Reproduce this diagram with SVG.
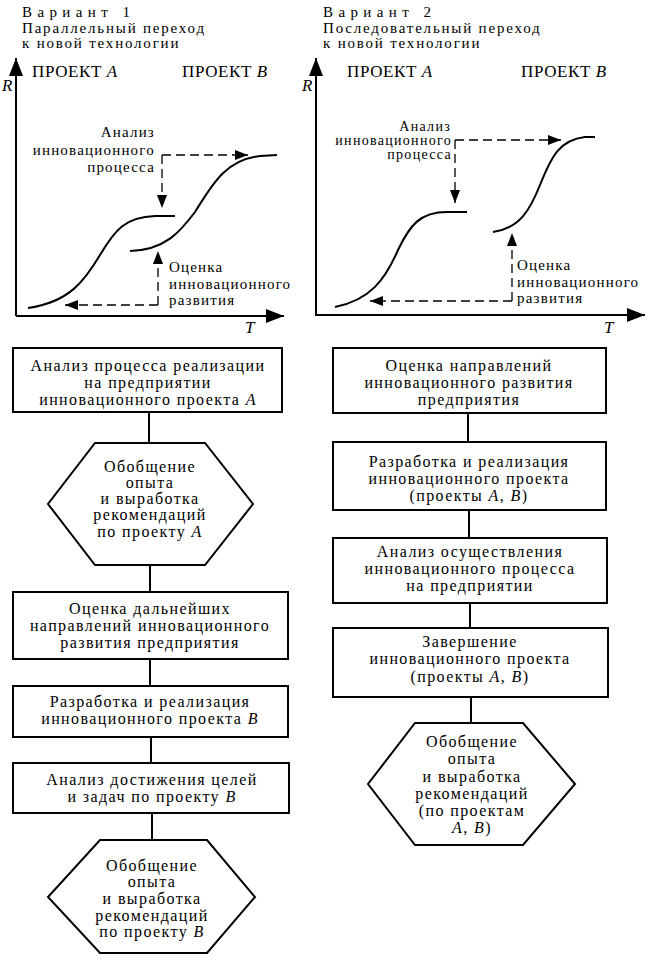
<svg xmlns="http://www.w3.org/2000/svg" width="649" height="967" viewBox="0 0 649 967">
<style>
.t{font-size:16px;letter-spacing:1.4px;text-anchor:middle}
.c{font-size:15px;letter-spacing:1.2px}
.c2{font-size:14px;letter-spacing:1.3px}
.e{text-anchor:end}
.hd{font-size:15px;letter-spacing:1.8px}
.sp{font-size:15px;letter-spacing:5.4px}
.pr{font-size:17px;letter-spacing:0.6px}
.ax{font-size:17px;font-style:italic}
.box{fill:#fff;stroke:#000;stroke-width:2}
.ln{fill:none;stroke:#000;stroke-width:2}
.cv{fill:none;stroke:#000;stroke-width:2}
.ds{fill:none;stroke:#000;stroke-width:1.3;stroke-dasharray:9 5}
</style>
<defs>
<marker id="ah" markerUnits="userSpaceOnUse" markerWidth="18" markerHeight="14" refX="18" refY="7" orient="auto"><path d="M0,0 L18,7 L0,14 z" fill="#000"/></marker>
<marker id="da" markerUnits="userSpaceOnUse" markerWidth="13" markerHeight="10" refX="13" refY="5" orient="auto"><path d="M0,0 L13,5 L0,10 z" fill="#000"/></marker>
</defs>
<g font-family="'Liberation Serif', 'Times New Roman', serif" fill="#000">

<g id="headings">
<text class="sp" x="22" y="17">Вариант 1</text>
<text class="hd" x="22" y="33">Параллельный переход</text>
<text class="hd" x="22" y="48">к новой технологии</text>
<text class="sp" x="323" y="17">Вариант 2</text>
<text class="hd" x="323" y="33">Последовательный переход</text>
<text class="hd" x="323" y="48">к новой технологии</text>
</g>

<g id="chart1">
<line class="ln" x1="16" y1="316" x2="16" y2="58" marker-end="url(#ah)"/>
<line class="ln" x1="16" y1="316" x2="284" y2="316" marker-end="url(#ah)"/>
<text class="ax" x="2" y="91">R</text>
<text class="ax" x="245" y="333">T</text>
<text class="pr" x="32" y="77">ПРОЕКТ <tspan font-style="italic">A</tspan></text>
<text class="pr" x="182" y="77">ПРОЕКТ <tspan font-style="italic">B</tspan></text>
<path class="cv" d="M28,308 C70,302 85,280 100,255 C115,230 125,217 155,216 L175,216"/>
<path class="cv" d="M130,251 C165,250 180,232 195,212 C212,185 225,160 260,156 L277,155"/>
<text class="c e" x="155" y="137">Анализ</text>
<text class="c e" x="155" y="155">инновационного</text>
<text class="c e" x="155" y="172">процесса</text>
<text class="c" x="169" y="272">Оценка</text>
<text class="c" x="169" y="289">инновационного</text>
<text class="c" x="169" y="305">развития</text>
</g>

<g id="chart2">
<line class="ln" x1="316" y1="316" x2="316" y2="58" marker-end="url(#ah)"/>
<line class="ln" x1="316" y1="315" x2="645" y2="315" marker-end="url(#ah)"/>
<text class="ax" x="302" y="91">R</text>
<text class="ax" x="604" y="333">T</text>
<text class="pr" x="347" y="77">ПРОЕКТ <tspan font-style="italic">A</tspan></text>
<text class="pr" x="521" y="77">ПРОЕКТ <tspan font-style="italic">B</tspan></text>
<path class="cv" d="M335,307 C370,300 385,280 398,250 C410,225 420,212 447,212 L467,212"/>
<path class="cv" d="M493,232 C520,228 530,210 540,185 C552,155 560,140 585,137 L595,137"/>
<text class="c2 e" x="451" y="131">Анализ</text>
<text class="c2 e" x="452" y="145">инновационного</text>
<text class="c2 e" x="452" y="159">процесса</text>
<text class="c" x="517" y="270">Оценка</text>
<text class="c" x="517" y="287">инновационного</text>
<text class="c" x="517" y="303">развития</text>
</g>

<g id="connectors">
<path class="ds" d="M162,155 L248,155" marker-end="url(#da)"/>
<path class="ds" d="M162,155 L162,208" marker-end="url(#da)"/>
<path class="ds" d="M158,305 L158,251" marker-end="url(#da)"/>
<path class="ds" d="M158,305 L65,305" marker-end="url(#da)"/>
<path class="ds" d="M455,140 L561,140" marker-end="url(#da)"/>
<path class="ds" d="M455,140 L455,203" marker-end="url(#da)"/>
<path class="ds" d="M512,301 L512,233" marker-end="url(#da)"/>
<path class="ds" d="M512,301 L370,301" marker-end="url(#da)"/>
<line class="ln" x1="149" y1="412" x2="149" y2="443"/>
<line class="ln" x1="150" y1="565" x2="150" y2="592"/>
<line class="ln" x1="150" y1="659" x2="150" y2="686"/>
<line class="ln" x1="151" y1="737" x2="151" y2="763"/>
<line class="ln" x1="152" y1="813" x2="152" y2="840"/>
<line class="ln" x1="468" y1="413" x2="468" y2="442"/>
<line class="ln" x1="469" y1="510" x2="469" y2="538"/>
<line class="ln" x1="470" y1="603" x2="470" y2="628"/>
<line class="ln" x1="471" y1="697" x2="471" y2="723"/>
</g>

<g id="L1">
<rect class="box" x="13" y="348" width="269" height="64"/>
<text class="t" x="148" y="371">Анализ процесса реализации</text>
<text class="t" x="148" y="388">на предприятии</text>
<text class="t" x="148" y="405">инновационного проекта <tspan font-style="italic">A</tspan></text>
</g>
<g id="L2">
<polygon class="box" points="95,443 205,443 253,504 205,565 95,565 48,504"/>
<text class="t" x="150" y="472">Обобщение</text>
<text class="t" x="150" y="488">опыта</text>
<text class="t" x="150" y="504">и выработка</text>
<text class="t" x="150" y="520">рекомендаций</text>
<text class="t" x="150" y="537">по проекту <tspan font-style="italic">A</tspan></text>
</g>
<g id="L3">
<rect class="box" x="13" y="592" width="275" height="67"/>
<text class="t" x="150" y="614">Оценка дальнейших</text>
<text class="t" x="150" y="631">направлений инновационного</text>
<text class="t" x="150" y="648">развития предприятия</text>
</g>
<g id="L4">
<rect class="box" x="13" y="686" width="275" height="51"/>
<text class="t" x="150" y="707">Разработка и реализация</text>
<text class="t" x="150" y="724">инновационного проекта <tspan font-style="italic">B</tspan></text>
</g>
<g id="L5">
<rect class="box" x="13" y="763" width="276" height="50"/>
<text class="t" x="152" y="785">Анализ достижения целей</text>
<text class="t" x="152" y="802">и задач по проекту <tspan font-style="italic">B</tspan></text>
</g>
<g id="L6">
<polygon class="box" points="100,840 207,840 255,897 207,953 100,953 48,897"/>
<text class="t" x="152" y="871">Обобщение</text>
<text class="t" x="152" y="887">опыта</text>
<text class="t" x="152" y="904">и выработка</text>
<text class="t" x="152" y="921">рекомендаций</text>
<text class="t" x="152" y="937">по проекту <tspan font-style="italic">B</tspan></text>
</g>

<g id="R1">
<rect class="box" x="333" y="348" width="273" height="65"/>
<text class="t" x="469" y="371">Оценка направлений</text>
<text class="t" x="469" y="388">инновационного развития</text>
<text class="t" x="469" y="405">предприятия</text>
</g>
<g id="R2">
<rect class="box" x="333" y="442" width="273" height="68"/>
<text class="t" x="469" y="467">Разработка и реализация</text>
<text class="t" x="469" y="484">инновационного проекта</text>
<text class="t" x="469" y="501">(проекты <tspan font-style="italic">A</tspan>, <tspan font-style="italic">B</tspan>)</text>
</g>
<g id="R3">
<rect class="box" x="333" y="538" width="274" height="65"/>
<text class="t" x="470" y="557">Анализ осуществления</text>
<text class="t" x="470" y="574">инновационного процесса</text>
<text class="t" x="470" y="591">на предприятии</text>
</g>
<g id="R4">
<rect class="box" x="333" y="628" width="275" height="69"/>
<text class="t" x="470" y="647">Завершение</text>
<text class="t" x="470" y="664">инновационного проекта</text>
<text class="t" x="470" y="682">(проекты <tspan font-style="italic">A</tspan>, <tspan font-style="italic">B</tspan>)</text>
</g>
<g id="R5">
<polygon class="box" points="415,723 523,723 575,784 523,845 415,845 368,784"/>
<text class="t" x="472" y="747">Обобщение</text>
<text class="t" x="472" y="764">опыта</text>
<text class="t" x="472" y="782">и выработка</text>
<text class="t" x="472" y="799">рекомендаций</text>
<text class="t" x="472" y="816">(по проектам</text>
<text class="t" x="472" y="833"><tspan font-style="italic">A</tspan>, <tspan font-style="italic">B</tspan>)</text>
</g>
</g>
</svg>
